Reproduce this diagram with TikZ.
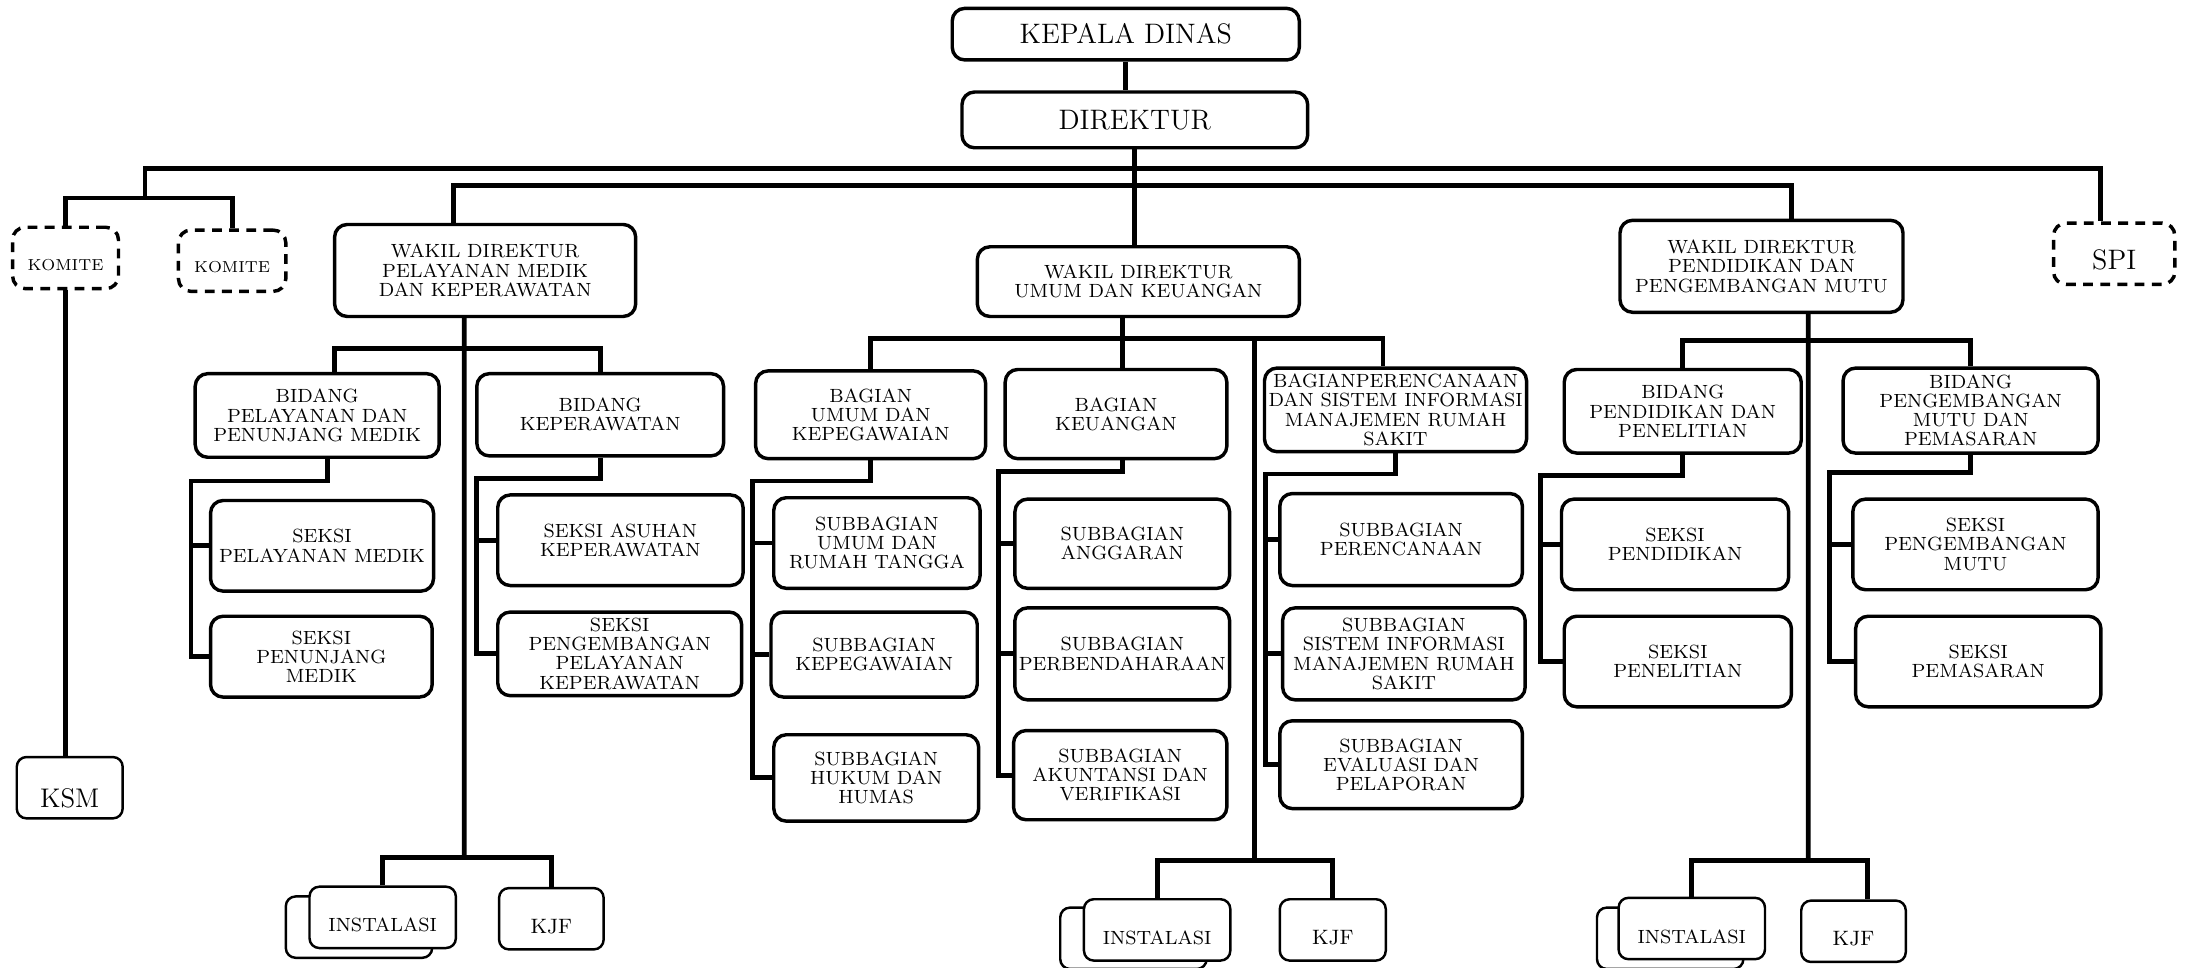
\documentclass[tikz,border=0pt]{standalone}
\usepackage{fontspec}
\usepackage{tikz}
\usetikzlibrary{positioning,calc}

\tikzset{
  box/.style={draw, line width=1.4pt, rounded corners=0.18cm, fill=white, align=center,
    inner sep=1pt, font=\fontsize{7.8}{7.8}\selectfont},
  bigbox/.style={box, font=\fontsize{11.5}{13}\selectfont},
  dashbox/.style={box, dash pattern=on 4pt off 3pt},
  unitbox/.style={box, line width=1pt, rounded corners=0.14cm, minimum width=2.1cm,
    minimum height=0.88cm, text height=12pt},
  link/.style={line width=2pt},
}

\begin{document}
\begin{tikzpicture}[x=0.02cm, y=-0.02cm]
\useasboundingbox (0,0) rectangle (1568,694);

\node[bigbox, minimum width=4.98cm, minimum height=0.74cm] (kadin) at (807.5,24.5) {KEPALA DINAS};
\node[bigbox, minimum width=4.96cm, minimum height=0.80cm] (dir) at (814,86) {DIREKTUR};

\node[dashbox, minimum width=1.52cm, minimum height=0.88cm, font=\fontsize{6.5}{7}\selectfont, text height=10pt] (kom1) at (47,185) {KOMITE};
\node[dashbox, minimum width=1.54cm, minimum height=0.88cm, font=\fontsize{6.5}{7}\selectfont, text height=10pt] (kom2) at (166.5,187) {KOMITE};
\node[dashbox, minimum width=1.74cm, minimum height=0.88cm, font=\fontsize{11.5}{13}\selectfont, text height=13.5pt] (spi) at (1516.5,182) {SPI};
\node[unitbox, minimum width=1.52cm, font=\fontsize{11}{13}\selectfont, text height=16pt] (ksm) at (50,565) {KSM};

\node[box, minimum width=4.32cm, minimum height=1.32cm] (wpmk) at (348,194) {WAKIL DIREKTUR\\PELAYANAN MEDIK\\DAN KEPERAWATAN};
\node[box, minimum width=4.62cm, minimum height=1.0cm] (wuk) at (816.5,202) {WAKIL DIREKTUR\\UMUM DAN KEUANGAN};
\node[box, minimum width=4.06cm, minimum height=1.32cm] (wppm) at (1263.5,191) {WAKIL DIREKTUR\\PENDIDIKAN DAN\\PENGEMBANGAN MUTU};

\node[box, minimum width=3.5cm, minimum height=1.2cm] (bppm) at (227.5,298) {BIDANG\\PELAYANAN DAN\\PENUNJANG MEDIK};
\node[box, minimum width=3.54cm, minimum height=1.18cm] (bkep) at (430.5,297.5) {BIDANG\\KEPERAWATAN};
\node[box, minimum width=3.2cm, minimum height=1.3cm] (spm) at (231,391.5) {SEKSI\\PELAYANAN MEDIK};
\node[box, minimum width=3.18cm, minimum height=1.16cm] (spnm) at (230.5,471) {SEKSI\\PENUNJANG\\MEDIK};
\node[box, minimum width=3.52cm, minimum height=1.3cm] (sak) at (445,387.5) {SEKSI ASUHAN\\KEPERAWATAN};
\node[box, minimum width=3.5cm, minimum height=1.2cm] (sppk) at (444.5,469) {SEKSI\\PENGEMBANGAN\\PELAYANAN\\KEPERAWATAN};

\node[box, minimum width=3.3cm, minimum height=1.26cm] (bumk) at (624.5,297.5) {BAGIAN\\UMUM DAN\\KEPEGAWAIAN};
\node[box, minimum width=3.18cm, minimum height=1.28cm] (bkeu) at (800.5,297) {BAGIAN\\KEUANGAN};
\node[box, minimum width=3.76cm, minimum height=1.2cm] (bpsi) at (1001,294) {BAGIANPERENCANAAN\\DAN SISTEM INFORMASI\\MANAJEMEN RUMAH\\SAKIT};
\node[box, minimum width=2.96cm, minimum height=1.3cm] (surt) at (629,389.5) {SUBBAGIAN\\UMUM DAN\\RUMAH TANGGA};
\node[box, minimum width=2.96cm, minimum height=1.22cm] (skpg) at (627,469.5) {SUBBAGIAN\\KEPEGAWAIAN};
\node[box, minimum width=2.94cm, minimum height=1.24cm] (shh) at (628.5,558) {SUBBAGIAN\\HUKUM DAN\\HUMAS};
\node[box, minimum width=3.08cm, minimum height=1.28cm] (sagr) at (805,390) {SUBBAGIAN\\ANGGARAN};
\node[box, minimum width=3.08cm, minimum height=1.32cm] (sbend) at (805,469) {SUBBAGIAN\\PERBENDAHARAAN};
\node[box, minimum width=3.06cm, minimum height=1.28cm] (sakv) at (803.5,556) {SUBBAGIAN\\AKUNTANSI DAN\\VERIFIKASI};
\node[box, minimum width=3.48cm, minimum height=1.32cm] (sren) at (1005,387) {SUBBAGIAN\\PERENCANAAN};
\node[box, minimum width=3.48cm, minimum height=1.32cm] (ssim) at (1007,469) {SUBBAGIAN\\SISTEM INFORMASI\\MANAJEMEN RUMAH\\SAKIT};
\node[box, minimum width=3.48cm, minimum height=1.26cm] (sevl) at (1005,548.5) {SUBBAGIAN\\EVALUASI DAN\\PELAPORAN};

\node[box, minimum width=3.4cm, minimum height=1.2cm] (bpp) at (1207,295) {BIDANG\\PENDIDIKAN DAN\\PENELITIAN};
\node[box, minimum width=3.66cm, minimum height=1.22cm] (bpmp) at (1413.5,294.5) {BIDANG\\PENGEMBANGAN\\MUTU DAN\\PEMASARAN};
\node[box, minimum width=3.26cm, minimum height=1.3cm] (spend) at (1201.5,390.5) {SEKSI\\PENDIDIKAN};
\node[box, minimum width=3.26cm, minimum height=1.3cm] (spen) at (1203.5,474.5) {SEKSI\\PENELITIAN};
\node[box, minimum width=3.52cm, minimum height=1.3cm] (spmu) at (1417,390.5) {SEKSI\\PENGEMBANGAN\\MUTU};
\node[box, minimum width=3.52cm, minimum height=1.3cm] (spms) at (1419,474.5) {SEKSI\\PEMASARAN};

\node[unitbox] (inst1b) at (257.5,665) {};
\node[unitbox] (inst1) at (274.5,658) {INSTALASI};
\node[unitbox, minimum width=1.5cm, font=\fontsize{8.5}{9}\selectfont] (kjf1) at (395.5,659) {KJF};
\node[unitbox] (inst2b) at (813,673) {};
\node[unitbox] (inst2) at (830,667) {INSTALASI};
\node[unitbox, minimum width=1.52cm, font=\fontsize{8.5}{9}\selectfont] (kjf2) at (956,667) {KJF};
\node[unitbox] (inst3b) at (1198,673) {};
\node[unitbox] (inst3) at (1213.5,666) {INSTALASI};
\node[unitbox, minimum width=1.5cm, font=\fontsize{8.5}{9}\selectfont] (kjf3) at (1329.5,668) {KJF};

\coordinate (kb) at (104,142);
\coordinate (bus1) at (814,121);
\coordinate (bus2) at (814,133);
\draw[link] (kadin.south) -- (kadin.south |- dir.north);
\draw[link] (dir.south) -- (dir.south |- wuk.north);
\draw[link] (kom1.north) |- (kb) -| (kom2.north);
\draw[link] (kb) |- (bus1) -| ([xshift=-0.2cm]spi.north);
\draw[link] ([xshift=-0.46cm]wpmk.north) |- (bus2) -| ([xshift=0.43cm]wppm.north);
\draw[link] (kom1.south) -- (kom1.south |- ksm.north);

\coordinate (pmkbus) at (333,250);
\coordinate (pmkend) at (333,615);
\draw[link] ([xshift=-0.3cm]wpmk.south) -- (pmkend);
\draw[link] ([xshift=0.25cm]bppm.north) |- (pmkbus) -| (bkep.north);
\draw[link] (inst1.north) |- (pmkend) -| (kjf1.north);
\coordinate (ppmk) at (137,345);
\draw[link] ([xshift=0.15cm]bppm.south) |- (ppmk) |- (spnm.west);
\draw[link] (ppmk |- spm.west) -- (spm.west);
\coordinate (kepk) at (342,343);
\draw[link] (bkep.south) |- (kepk) |- (sppk.west);
\draw[link] (kepk |- sak.west) -- (sak.west);

\coordinate (ukbus) at (900,243);
\coordinate (ukend) at (900,617);
\coordinate (uks) at ([xshift=-0.23cm]wuk.south);
\draw[link] (uks) -- (uks |- bkeu.north);
\draw[link] (bumk.north) |- (ukbus) -| ([xshift=-0.18cm]bpsi.north);
\draw[link] (ukbus) -- (ukend);
\draw[link] (inst2.north) |- (ukend) -| (kjf2.north);
\coordinate (umk) at (540,345);
\draw[link] (bumk.south) |- (umk) |- (shh.west);
\draw[link] (umk |- surt.west) -- (surt.west);
\draw[link] (umk |- skpg.west) -- (skpg.west);
\coordinate (keuk) at (716,338);
\draw[link] ([xshift=0.09cm]bkeu.south) |- (keuk) |- (sakv.west);
\draw[link] (keuk |- sagr.west) -- (sagr.west);
\draw[link] (keuk |- sbend.west) -- (sbend.west);
\coordinate (psik) at (908,340);
\draw[link] (bpsi.south) |- (psik) |- (sevl.west);
\draw[link] (psik |- sren.west) -- (sren.west);
\draw[link] (psik |- ssim.west) -- (ssim.west);

\coordinate (ppmbus) at (1297,244);
\coordinate (ppmend) at (1297,617);
\draw[link] ([xshift=0.67cm]wppm.south) -- (ppmend);
\draw[link] (bpp.north) |- (ppmbus) -| (bpmp.north);
\draw[link] (inst3.north) |- (ppmend) -| ([xshift=0.2cm]kjf3.north);
\coordinate (ppk) at (1105,341);
\draw[link] (bpp.south) |- (ppk) |- (spen.west);
\draw[link] (ppk |- spend.west) -- (spend.west);
\coordinate (pmpk) at (1312,339);
\draw[link] (bpmp.south) |- (pmpk) |- (spms.west);
\draw[link] (pmpk |- spmu.west) -- (spmu.west);
\end{tikzpicture}
\end{document}
